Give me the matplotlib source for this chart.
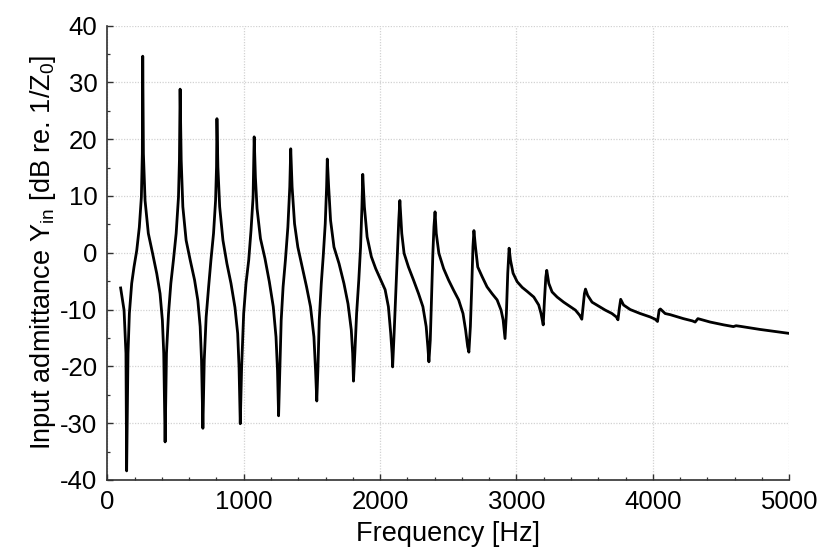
import matplotlib
matplotlib.use("Agg")
import matplotlib.pyplot as plt
from matplotlib.ticker import MultipleLocator

plt.rcParams['font.family'] = ['Liberation Sans', 'DejaVu Sans']
plt.rcParams['mathtext.fontset'] = 'custom'
plt.rcParams['mathtext.rm'] = 'Liberation Sans'
plt.rcParams['mathtext.it'] = 'Liberation Sans:italic'
plt.rcParams['axes.unicode_minus'] = False

# values
freq = [98, 123, 137, 142, 152, 162, 179, 196, 216, 235, 250, 257, 260, 265, 277,
        301, 333, 363, 387, 404, 414, 424, 434, 449, 466, 485, 505, 522, 529, 534,
        542, 554, 578, 608, 640, 664, 681, 691, 701, 711, 725, 743, 760, 779, 794,
        801, 804, 811, 824, 848, 877, 907, 936, 956, 966, 975, 985, 1000, 1017, 1037,
        1054, 1069, 1077, 1086, 1098, 1123, 1156, 1188, 1217, 1237, 1248, 1256, 1265,
        1275, 1289, 1306, 1324, 1338, 1345, 1355, 1373, 1397, 1429, 1461, 1490, 1515,
        1527, 1536, 1544, 1554, 1569, 1583, 1598, 1608, 1613, 1623, 1637, 1662, 1699,
        1735, 1765, 1789, 1799, 1805, 1815, 1828, 1844, 1857, 1867, 1873, 1885, 1905,
        1936, 1968, 2000, 2037, 2061, 2078, 2088, 2092, 2103, 2115, 2127, 2137, 2145,
        2159, 2176, 2208, 2245, 2282, 2314, 2338, 2350, 2358, 2368, 2377, 2387, 2395,
        2403, 2412, 2431, 2466, 2502, 2539, 2576, 2608, 2627, 2642, 2651, 2662, 2672,
        2681, 2688, 2699, 2716, 2748, 2784, 2821, 2858, 2887, 2902, 2912, 2916, 2926,
        2936, 2946, 2956, 2975, 3005, 3042, 3078, 3127, 3163, 3180, 3196, 3205, 3215,
        3222, 3237, 3261, 3298, 3346, 3395, 3432, 3463, 3479, 3488, 3498, 3506, 3522,
        3554, 3602, 3651, 3700, 3732, 3744, 3754, 3764, 3785, 3834, 3907, 3980, 4017,
        4034, 4046, 4055, 4090, 4127, 4224, 4290, 4310, 4330, 4345, 4420, 4520, 4590,
        4610, 4640, 4785, 5000]
admittance_db = [-6.2, -10.1, -17.7, -38.4, -17.7, -10.7, -5.4, -2.5, 0.4, 4.5, 9.8, 17.4, 34.6, 17.4, 9.2,
                 3.4, -0.2, -3.7, -7.2, -11.9, -17.7, -33.3, -17.7, -10.7, -5.4, -1.3, 3.4, 9.8, 16.3, 28.8,
                 16.3, 8.1, 2.2, -1.3, -4.8, -8.4, -13.0, -18.9, -30.9, -18.9, -11.3, -6.0, -1.3, 3.4, 9.2,
                 15.1, 23.6, 15.1, 8.1, 2.2, -1.9, -5.4, -9.6, -14.2, -20.1, -30.1, -20.1, -10.7, -5.4, -1.3,
                 4.0, 9.8, 20.4, 13.3, 7.8, 2.5, -1.0, -5.1, -9.5, -14.8, -20.7, -28.7, -20.7,
                 -11.9, -6.0, -1.3, 4.5, 11.6, 18.3, 11.6, 5.1, 1.0, -2.5, -6.0, -9.5, -14.8,
                 -20.7, -26.1, -20.7, -11.9, -5.4, -0.7, 5.1, 11.6, 16.5, 11.6, 5.7, 1.0, -1.9,
                 -5.4, -9.0, -13.6, -17.7, -22.6, -17.7, -10.7, -4.8, 1.0, 8.1, 13.8, 8.1, 2.8,
                 -0.7, -2.8, -4.5, -6.5, -9.5, -14.2, -17.7, -20.1, -14.2, -7.2, -0.1, 5.7, 9.2,
                 3.4, -0.1, -2.5, -4.8, -7.2, -9.5, -13.0, -16.5, -19.2, -15.4, -8.3, -0.1, 4.6,
                 7.2, 3.4, -0.1, -2.8, -4.8, -6.6, -8.3, -10.7, -13.6, -16.5, -17.5, -13.0, -6.0,
                 1.1, 3.9, 1.1, -2.5, -4.2, -6.0, -7.2, -8.3, -10.1, -11.8, -14.2, -15.1, -10.7,
                 -3.6, 0.8, -1.3, -3.6, -5.1, -6.1, -6.8, -7.8, -9.2, -10.7, -12.7, -8.4, -4.3,
                 -3.1, -5.4, -6.9, -7.8, -8.7, -9.5, -10.1, -11.0, -11.7, -9.5, -7.2, -6.4, -7.5,
                 -8.7, -9.4, -10.1, -10.7, -11.3, -11.8, -9.8, -8.2, -9.2, -10.0, -10.7, -11.3, -11.7,
                 -12.1, -10.1, -9.9, -10.7, -10.9, -11.6, -12.0, -12.2, -11.6, -11.7, -12.2, -12.7, -13.0,
                 -12.85, -12.95, -13.5, -14.2]

fig = plt.figure(figsize=(8.22, 5.51), dpi=100)
ax = fig.add_axes([0.1305, 0.1289, 0.8297, 0.8248])

ax.plot(freq, admittance_db, color="black", lw=2.0, solid_joinstyle="round")

ax.set_xlim(0, 5000)
ax.set_ylim(-40, 40)
ax.xaxis.set_major_locator(MultipleLocator(1000))
ax.xaxis.set_minor_locator(MultipleLocator(200))
ax.yaxis.set_major_locator(MultipleLocator(10))
ax.yaxis.set_minor_locator(MultipleLocator(5))

ax.grid(True, which="major", color="#d2d2d2", linestyle=(0, (1, 1.2)), linewidth=0.9)
ax.set_axisbelow(True)
for side in ["top", "right"]:
    ax.spines[side].set_visible(False)
for side in ["left", "bottom"]:
    ax.spines[side].set_color("#303030")
    ax.spines[side].set_linewidth(1.2)

ax.tick_params(which="major", direction="in", length=4, width=1.0, color="#303030",
               labelsize=18.5, pad=7)
ax.tick_params(which="minor", direction="in", length=2.5, width=0.9, color="#303030")

ax.set_xlabel("Frequency [Hz]", fontsize=19.5, labelpad=5)
ax.set_ylabel(r"Input admittance Y$_\mathregular{in}$ [dB re. 1/Z$_\mathregular{0}$]",
              fontsize=19.5, labelpad=2)

fig.savefig("out.png", dpi=100)
